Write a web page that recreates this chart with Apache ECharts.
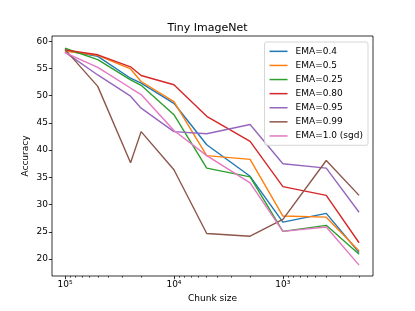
<!DOCTYPE html>
<html>
<head>
<meta charset="utf-8">
<script src="https://cdn.jsdelivr.net/npm/echarts@6/dist/echarts.min.js"></script>
<style>html,body{margin:0;padding:0;background:#fff}#c{width:415px;height:311px}</style>
</head>
<body>
<div id="c"></div>
<script>
const chunkSizes = [100000, 50000, 25000, 20000, 10000, 5000, 2000, 1000, 400, 200];
const ema04  = [58.3, 57.2, 53.2, 52.3, 48.6, 41.0, 35.2, 26.8, 28.4, 21.2];
const ema05  = [58.2, 57.4, 54.9, 52.6, 48.9, 39.0, 38.3, 27.9, 27.7, 21.5];
const ema025 = [58.7, 56.6, 52.9, 51.9, 46.5, 36.7, 35.1, 25.1, 26.2, 20.9];
const ema080 = [58.4, 57.5, 55.3, 53.7, 52.0, 46.2, 41.6, 33.3, 31.7, 23.0];
const ema095 = [58.0, 53.8, 49.9, 47.7, 43.4, 43.0, 44.7, 37.5, 36.7, 28.6];
const ema099 = [58.5, 51.7, 37.7, 43.4, 36.4, 24.7, 24.2, 27.3, 38.1, 31.7];
const ema10  = [57.9, 55.2, 51.4, 50.2, 43.6, 39.0, 34.0, 25.1, 25.9, 18.9];
const seriesNames = ['EMA=0.4', 'EMA=0.5', 'EMA=0.25', 'EMA=0.80', 'EMA=0.95', 'EMA=0.99', 'EMA=1.0 (sgd)'];
const seriesValues = [ema04, ema05, ema025, ema080, ema095, ema099, ema10];
const colors = ['#1f77b4', '#ff7f0e', '#2ca02c', '#d62728', '#9467bd', '#8c564b', '#e377c2'];
const xMajorTicks = [100000, 10000, 1000];
const xMinorTicks = [];
[100, 1000, 10000].forEach(d => { for (let k = 2; k <= 9; k++) xMinorTicks.push(k * d); });
const yTicks = [20, 25, 30, 35, 40, 45, 50, 55, 60];
const sup = {'3': '\u00b3', '4': '\u2074', '5': '\u2075'};

const font = 'DejaVu Sans';
const chart = echarts.init(document.getElementById('c'));
chart.setOption({
  animation: false,
  backgroundColor: '#fff',
  textStyle: {fontFamily: font},
  title: {
    text: 'Tiny ImageNet', left: 'center', top: 18,
    textStyle: {fontFamily: font, fontSize: 11, fontWeight: 'normal', color: '#000'}
  },
  grid: {left: 52, right: 42, top: 36, bottom: 35, show: true, borderColor: '#000', borderWidth: 0.8},
  legend: {
    orient: 'vertical', right: 47, top: 42,
    icon: 'rect',
    itemWidth: 18, itemHeight: 1.5, itemGap: 3.4,
    padding: [4, 5, 4, 5],
    borderColor: '#cccccc', borderWidth: 0.8, borderRadius: 2,
    backgroundColor: 'rgba(255,255,255,0.8)',
    textStyle: {fontFamily: font, fontSize: 9, color: '#000', padding: [0, 0, 0, 3], lineHeight: 10.7},
    data: seriesNames
  },
  xAxis: [{
    type: 'log', logBase: 10, inverse: true, min: 149, max: 131500,
    name: 'Chunk size', nameLocation: 'middle', nameGap: 18, nameMoveOverlap: false,
    nameTextStyle: {fontFamily: font, fontSize: 9, color: '#000'},
    axisLine: {show: false},
    splitLine: {show: false},
    axisTick: {show: true, customValues: xMajorTicks, length: 3.2, lineStyle: {color: '#000', width: 0.8}},
    axisLabel: {customValues: xMajorTicks, margin: 4, fontSize: 9, color: '#000', fontFamily: font,
      formatter: v => '10' + sup[String(Math.round(Math.log10(v)))]}
  }, {
    type: 'log', logBase: 10, inverse: true, min: 149, max: 131500, position: 'bottom',
    axisLine: {show: false}, splitLine: {show: false},
    axisTick: {show: true, customValues: xMinorTicks, length: 1.8, lineStyle: {color: '#000', width: 0.6}},
    axisLabel: {show: false}
  }],
  yAxis: {
    type: 'value', min: 16.9, max: 60.95,
    name: 'Accuracy', nameLocation: 'middle', nameGap: 22, nameMoveOverlap: false,
    nameTextStyle: {fontFamily: font, fontSize: 9, color: '#000'},
    axisLine: {show: false}, splitLine: {show: false},
    axisTick: {show: true, customValues: yTicks, length: 3.2, lineStyle: {color: '#000', width: 0.8}},
    axisLabel: {customValues: yTicks, margin: 4, fontSize: 9, color: '#000', fontFamily: font}
  },
  series: seriesNames.map((n, i) => ({
    name: n, type: 'line', xAxisIndex: 0, symbol: 'none',
    data: chunkSizes.map((c, j) => [c, seriesValues[i][j]]),
    lineStyle: {color: colors[i], width: 1.4},
    itemStyle: {color: colors[i]}
  }))
});
</script>
</body>
</html>
